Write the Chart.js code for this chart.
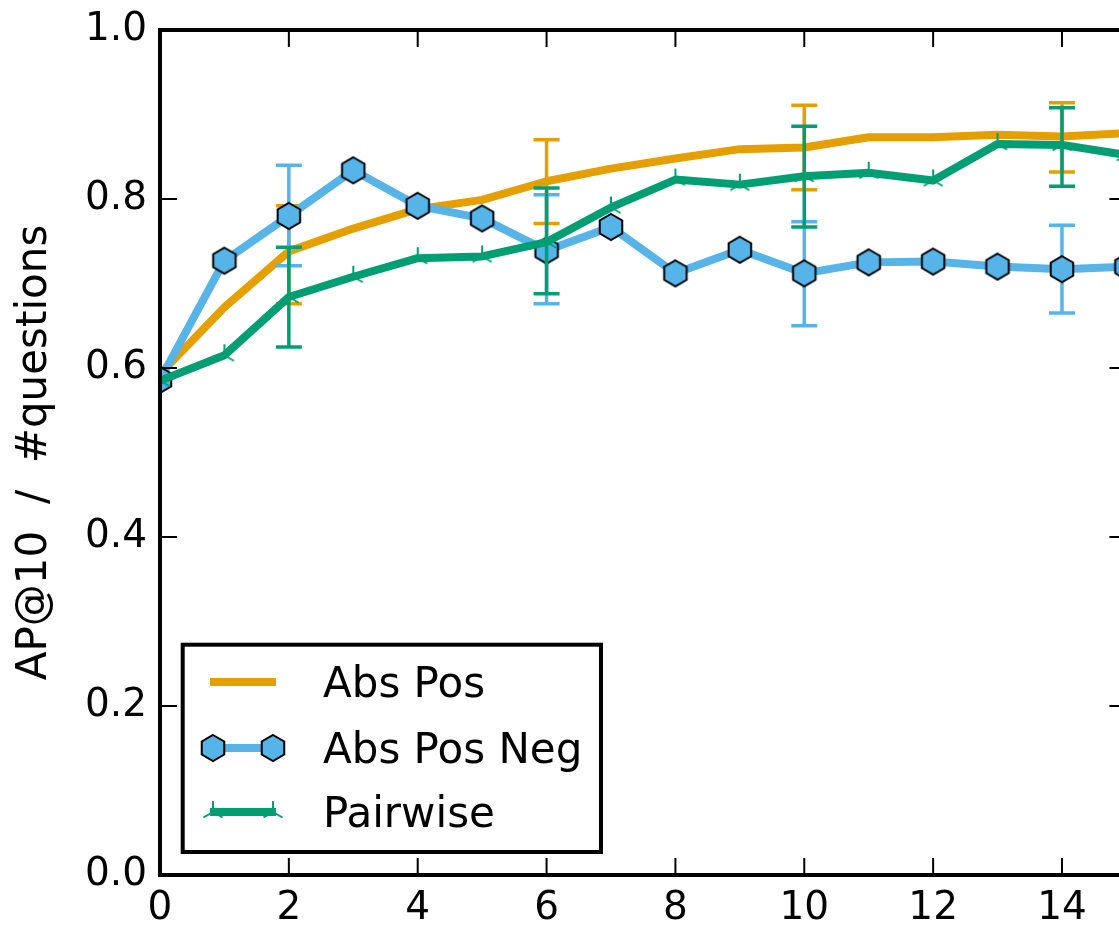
<!DOCTYPE html>
<html>
<head>
<meta charset="utf-8">
<script src="https://cdn.jsdelivr.net/npm/chart.js@4.4.1/dist/chart.umd.min.js"></script>
<style>
  html, body { margin: 0; padding: 0; background: #fff; overflow: hidden; }
  #wrap { position: relative; width: 1119px; height: 930px; }
</style>
</head>
<body>
<div id="wrap"><canvas id="apChart" width="1119" height="930"></canvas></div>
<script>
// x = number of steps, y = AP@10 / #questions
const steps = [0, 1, 2, 3, 4, 5, 6, 7, 8, 9, 10, 11, 12, 13, 14, 15];
const absPos    = [0.593, 0.672, 0.738, 0.765, 0.788, 0.799, 0.821, 0.836, 0.848, 0.859, 0.861, 0.873, 0.873, 0.876, 0.874, 0.878];
const absPosNeg = [0.586, 0.727, 0.780, 0.834, 0.792, 0.777, 0.739, 0.767, 0.712, 0.740, 0.712, 0.725, 0.726, 0.720, 0.717, 0.720];
const pairwise  = [0.585, 0.615, 0.684, 0.708, 0.730, 0.732, 0.749, 0.790, 0.823, 0.817, 0.827, 0.831, 0.822, 0.865, 0.864, 0.852];

// error bars are only shown every 4th step
const errSteps = [2, 6, 10, 14];
const absPosLow     = [0.676, 0.771, 0.811, 0.832];
const absPosHigh    = [0.792, 0.870, 0.911, 0.914];
const absPosNegLow  = [0.721, 0.676, 0.650, 0.665];
const absPosNegHigh = [0.840, 0.805, 0.773, 0.769];
const pairwiseLow   = [0.625, 0.688, 0.767, 0.815];
const pairwiseHigh  = [0.743, 0.813, 0.886, 0.908];

const xTickValues = [0, 2, 4, 6, 8, 10, 12, 14];
const yTickValues = [0.0, 0.2, 0.4, 0.6, 0.8, 1.0];
// the original figure is cropped just short of its right spine (x = 15)
const xSpineMax = 15;
const xVisibleMax = 14.885;

const ORANGE = "#E69F00", BLUE = "#56B4E9", GREEN = "#009E73";
const FONT = "'DejaVu Sans', sans-serif";

function hexagonMarker(r, fill, edge) {
    const size = 2 * r + 6;
    const c = document.createElement("canvas");
    c.width = c.height = size;
    const g = c.getContext("2d");
    g.beginPath();
    for (let i = 0; i < 6; i++) {
        const a = -Math.PI / 2 + i * Math.PI / 3;
        const px = size / 2 + r * Math.cos(a), py = size / 2 + r * Math.sin(a);
        if (i === 0) g.moveTo(px, py); else g.lineTo(px, py);
    }
    g.closePath();
    g.fillStyle = fill;
    g.fill();
    g.lineWidth = 2;
    g.strokeStyle = edge;
    g.stroke();
    return c;
}

function triDownMarker(r, color) {
    const size = 2 * r + 6;
    const c = document.createElement("canvas");
    c.width = c.height = size;
    const g = c.getContext("2d");
    const m = size / 2;
    g.strokeStyle = color;
    g.lineWidth = 2;
    g.beginPath();
    g.moveTo(m, m); g.lineTo(m, m - r);
    g.moveTo(m, m); g.lineTo(m + r * 0.866, m + r * 0.5);
    g.moveTo(m, m); g.lineTo(m - r * 0.866, m + r * 0.5);
    g.stroke();
    return c;
}

const hexImg = hexagonMarker(13, BLUE, "#000");
const triImg = triDownMarker(11, GREEN);

const errorBars = {
    id: "errorBars",
    beforeDatasetDraw(chart, args) {
        const ds = chart.data.datasets[args.index];
        if (!ds.errLow) return;
        const ctx = chart.ctx, xs = chart.scales.x, ys = chart.scales.y;
        ctx.save();
        ctx.strokeStyle = ds.borderColor;
        ctx.lineWidth = 3.5;
        errSteps.forEach((s, i) => {
            const px = xs.getPixelForValue(s);
            const lo = ys.getPixelForValue(ds.errLow[i]);
            const hi = ys.getPixelForValue(ds.errHigh[i]);
            ctx.beginPath();
            ctx.moveTo(px, lo); ctx.lineTo(px, hi);
            ctx.moveTo(px - 13, lo); ctx.lineTo(px + 13, lo);
            ctx.moveTo(px - 13, hi); ctx.lineTo(px + 13, hi);
            ctx.stroke();
        });
        ctx.restore();
    }
};

// matplotlib-style frame: spines on four sides with inward ticks, then the legend box
const frameAndLegend = {
    id: "frameAndLegend",
    afterDatasetsDraw(chart) {
        const ctx = chart.ctx, a = chart.chartArea, xs = chart.scales.x, ys = chart.scales.y;
        const tl = 17;
        const right = xs.getPixelForValue(xSpineMax);
        ctx.save();
        ctx.strokeStyle = "#000";
        ctx.lineWidth = 2;
        ctx.beginPath();
        xTickValues.forEach(v => {
            const px = xs.getPixelForValue(v);
            ctx.moveTo(px, a.bottom); ctx.lineTo(px, a.bottom - tl);
            ctx.moveTo(px, a.top); ctx.lineTo(px, a.top + tl);
        });
        yTickValues.forEach(v => {
            const py = ys.getPixelForValue(v);
            ctx.moveTo(a.left, py); ctx.lineTo(a.left + tl, py);
            ctx.moveTo(right, py); ctx.lineTo(right - tl, py);
        });
        ctx.stroke();
        ctx.lineWidth = 4;
        ctx.strokeRect(a.left, a.top, right - a.left, a.bottom - a.top);

        // legend
        ctx.fillStyle = "#fff";
        ctx.fillRect(182.7, 644.7, 418.3, 207.3);
        ctx.lineWidth = 4;
        ctx.strokeRect(182.7, 644.7, 418.3, 207.3);
        const rows = [
            { label: "Abs Pos", color: ORANGE, marker: null, y: 682 },
            { label: "Abs Pos Neg", color: BLUE, marker: hexImg, y: 748 },
            { label: "Pairwise", color: GREEN, marker: triImg, y: 812 }
        ];
        rows.forEach(r => {
            ctx.strokeStyle = r.color;
            ctx.lineWidth = 8;
            ctx.beginPath();
            ctx.moveTo(210, r.y); ctx.lineTo(276, r.y);
            ctx.stroke();
            if (r.marker) {
                [213, 273].forEach(mx => ctx.drawImage(r.marker, mx - r.marker.width / 2, r.y - r.marker.height / 2));
            }
            ctx.fillStyle = "#000";
            ctx.font = "42px " + FONT;
            ctx.textAlign = "left";
            ctx.textBaseline = "alphabetic";
            ctx.fillText(r.label, 323, r.y + 15);
        });
        ctx.restore();
    }
};

new Chart(document.getElementById("apChart"), {
    type: "line",
    data: {
        labels: steps,
        datasets: [
            {
                label: "Abs Pos",
                data: absPos,
                borderColor: ORANGE,
                backgroundColor: ORANGE,
                borderWidth: 8,
                pointRadius: 0,
                errLow: absPosLow,
                errHigh: absPosHigh,
                order: 3
            },
            {
                label: "Abs Pos Neg",
                data: absPosNeg,
                borderColor: BLUE,
                backgroundColor: BLUE,
                borderWidth: 8,
                pointStyle: hexImg,
                pointRadius: 13,
                errLow: absPosNegLow,
                errHigh: absPosNegHigh,
                order: 2
            },
            {
                label: "Pairwise",
                data: pairwise,
                borderColor: GREEN,
                backgroundColor: GREEN,
                borderWidth: 8,
                pointStyle: triImg,
                pointRadius: 11,
                errLow: pairwiseLow,
                errHigh: pairwiseHigh,
                order: 1
            }
        ].map(ds => Object.assign(ds, {
            data: ds.data.map((v, i) => ({ x: steps[i], y: v })),
            tension: 0,
            borderJoinStyle: "round",
            clip: { left: 0, top: 0, right: false, bottom: 0 }
        }))
    },
    options: {
        responsive: false,
        animation: false,
        devicePixelRatio: 1,
        layout: { autoPadding: false, padding: { top: 30, right: 0, bottom: 0, left: 0 } },
        plugins: {
            legend: { display: false },
            tooltip: { enabled: false }
        },
        scales: {
            x: {
                type: "linear",
                min: 0,
                max: xVisibleMax,
                afterBuildTicks: s => { s.ticks = xTickValues.map(v => ({ value: v })); },
                afterFit: s => { s.height = 55; s.paddingLeft = 0; s.paddingRight = 0; },
                grid: { display: false, drawTicks: false },
                border: { display: false },
                ticks: { color: "#000", font: { family: FONT, size: 39 }, padding: 10, maxRotation: 0 }
            },
            y: {
                min: 0,
                max: 1,
                afterBuildTicks: s => { s.ticks = yTickValues.map(v => ({ value: v })); },
                afterFit: s => { s.width = 160; s.paddingTop = 0; s.paddingBottom = 0; },
                grid: { display: false, drawTicks: false },
                border: { display: false },
                ticks: { color: "#000", font: { family: FONT, size: 39 }, padding: 13, callback: v => v.toFixed(1) },
                title: {
                    display: true,
                    text: "AP@10  /  #questions",
                    color: "#000",
                    font: { family: FONT, size: 42 },
                    padding: { top: 10, bottom: 0 }
                }
            }
        }
    },
    plugins: [errorBars, frameAndLegend]
});
</script>
</body>
</html>
